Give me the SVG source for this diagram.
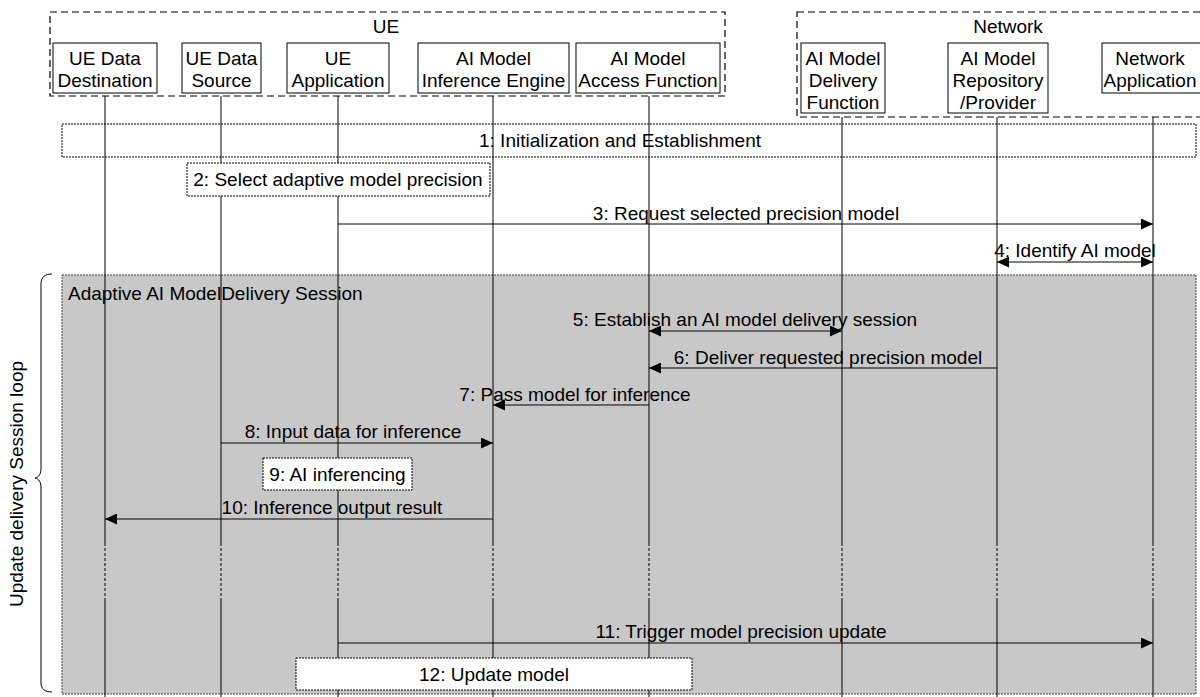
<svg xmlns="http://www.w3.org/2000/svg" width="1200" height="697" viewBox="0 0 1200 697">
<style>
text{font-family:"Liberation Sans",Arial,sans-serif;font-size:19px;fill:#000}
.c{text-anchor:middle}
.grp{fill:none;stroke:#000;stroke-width:1.2;stroke-dasharray:7 4}
.part{fill:#fff;stroke:#000;stroke-width:1}
.note{fill:#fff;stroke:#000;stroke-width:1;stroke-dasharray:2 1}
.life{stroke:#000;stroke-width:1;fill:none}
.lifed{stroke:#000;stroke-width:1;fill:none;stroke-dasharray:3 2}
.msg{stroke:#000;stroke-width:1;fill:none;marker-end:url(#ah)}
.bi{marker-start:url(#ah)}
</style>
<defs>
<marker id="ah" markerUnits="userSpaceOnUse" markerWidth="12" markerHeight="11" viewBox="0 0 12 11" refX="12" refY="5.5" orient="auto-start-reverse">
<path d="M0,0 L12,5.5 L0,11 z" fill="#000"/>
</marker>
</defs>
<rect width="1200" height="697" fill="#fff"/>

<g id="session-frame">
<rect x="62" y="275" width="1134" height="419" fill="#c8c8c8" stroke="#444" stroke-width="1" stroke-dasharray="2 1"/>
<text x="68" y="300">Adaptive AI ModelDelivery Session</text>
</g>

<g id="loop">
<path d="M52,274 C45,274 41,277 41,284 L41,468 C41,474 39,477 35,478 C39,479 41,482 41,488 L41,683 C41,689 45,692 52,692" fill="none" stroke="#000" stroke-width="1"/>
<text class="c" transform="translate(23,484) rotate(-90)">Update delivery Session loop</text>
</g>

<g id="step1">
<rect x="62" y="124" width="1134" height="33" class="note"/>
<text class="c" x="620" y="147">1: Initialization and Establishment</text>
</g>

<g id="ue-group">
<rect x="50" y="12" width="675" height="84" class="grp"/>
<text class="c" x="386" y="33">UE</text>
</g>
<g id="network-group">
<rect x="797" y="12" width="420" height="105" class="grp"/>
<text class="c" x="1008" y="33">Network</text>
</g>

<g id="ue-data-destination">
<rect x="53" y="43" width="104" height="50" class="part"/>
<text class="c" x="105" y="65">UE Data</text>
<text class="c" x="105" y="87">Destination</text>
</g>
<g id="ue-data-source">
<rect x="182" y="43" width="79" height="50" class="part"/>
<text class="c" x="221.5" y="65">UE Data</text>
<text class="c" x="221.5" y="87">Source</text>
</g>
<g id="ue-application">
<rect x="287" y="43" width="102" height="50" class="part"/>
<text class="c" x="338" y="65">UE</text>
<text class="c" x="338" y="87">Application</text>
</g>
<g id="inference-engine">
<rect x="418" y="43" width="151" height="50" class="part"/>
<text class="c" x="493.5" y="65">AI Model</text>
<text class="c" x="493.5" y="87">Inference Engine</text>
</g>
<g id="access-function">
<rect x="576" y="43" width="144" height="50" class="part"/>
<text class="c" x="648" y="65">AI Model</text>
<text class="c" x="648" y="87">Access Function</text>
</g>
<g id="delivery-function">
<rect x="801" y="43" width="84" height="70" class="part"/>
<text class="c" x="843" y="65">AI Model</text>
<text class="c" x="843" y="87">Delivery</text>
<text class="c" x="843" y="109">Function</text>
</g>
<g id="repository">
<rect x="948" y="43" width="100" height="70" class="part"/>
<text class="c" x="998" y="65">AI Model</text>
<text class="c" x="998" y="87">Repository</text>
<text class="c" x="998" y="109">/Provider</text>
</g>
<g id="network-application">
<rect x="1102" y="43" width="110" height="50" class="part"/>
<text class="c" x="1150" y="65">Network</text>
<text class="c" x="1150" y="87">Application</text>
</g>

<g id="connectors">
<g id="lifelines">
<path class="life" d="M105,96V543M105,599V697M221,96V543M221,599V697M338,96V543M338,599V697M493,96V543M493,599V697M649,96V543M649,599V697M842,117V543M842,599V697M997,117V543M997,599V697M1153,117V543M1153,599V697"/>
<path class="lifed" d="M105,543V599M221,543V599M338,543V599M493,543V599M649,543V599M842,543V599M997,543V599M1153,543V599"/>
</g>
<path class="msg" d="M338,224H1153"/>
<text class="c" x="746" y="220">3: Request selected precision model</text>
<path class="msg bi" d="M997,262H1153"/>
<text class="c" x="1075" y="257">4: Identify AI model</text>
<path class="msg bi" d="M649,331H842"/>
<text class="c" x="745" y="326">5: Establish an AI model delivery session</text>
<path class="msg" d="M997,368H649"/>
<text class="c" x="828" y="364">6: Deliver requested precision model</text>
<path class="msg" d="M649,405H493"/>
<text class="c" x="575" y="401">7: Pass model for inference</text>
<path class="msg" d="M221,443H493"/>
<text class="c" x="353" y="438">8: Input data for inference</text>
<path class="msg" d="M493,519H105"/>
<text class="c" x="332" y="514">10: Inference output result</text>
<path class="msg" d="M338,643H1153"/>
<text class="c" x="741" y="638">11: Trigger model precision update</text>
</g>

<g id="step2">
<rect x="187" y="163" width="303" height="33" class="note"/>
<text class="c" x="338" y="186">2: Select adaptive model precision</text>
</g>
<g id="step9">
<rect x="263" y="458" width="149" height="32" class="note"/>
<text class="c" x="337.5" y="481">9: AI inferencing</text>
</g>
<g id="step12">
<rect x="296" y="658" width="396" height="32" class="note"/>
<text class="c" x="494" y="681">12: Update model</text>
</g>
</svg>
